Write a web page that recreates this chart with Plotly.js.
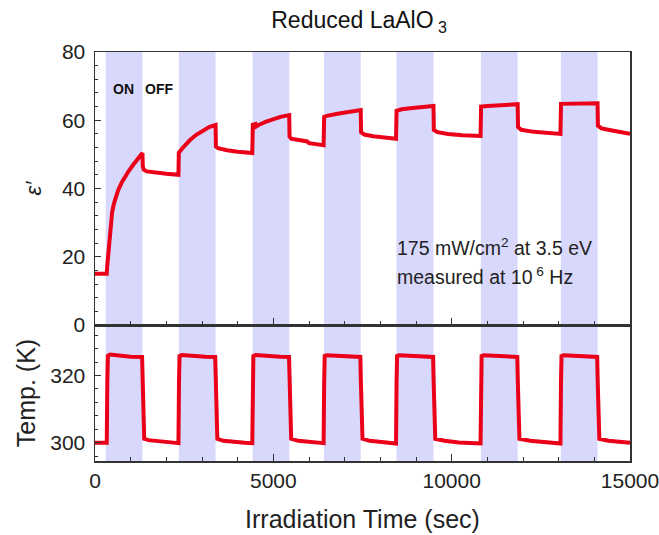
<!DOCTYPE html>
<html>
<head>
<meta charset="utf-8">
<script src="https://cdn.plot.ly/plotly-3.0.1.min.js"></script>
<style>html,body{margin:0;padding:0;background:#fff;}#chart{width:659px;height:535px;}</style>
</head>
<body>
<div id="chart"></div>
<script>
// Light ON periods (shaded bands), seconds
const bandStart = [300, 2350, 4420, 6420, 8450, 10820, 13060];
const bandEnd   = [1330, 3380, 5450, 7450, 9490, 11850, 14090];

// Dielectric constant epsilon' vs time
const tEps = [0, 330, 340, 360, 390, 436, 480, 531, 600, 650, 750, 825, 950, 1061, 1200, 1330,
  1340, 1370, 1450, 1700, 2000, 2340,
  2350, 2450, 2664, 2850, 3028, 3200, 3380,
  3390, 3450, 3700, 4000, 4410,
  4425, 4500, 4520, 4600, 4800, 5000, 5200, 5445,
  5455, 5500, 5700, 5950, 6000, 6200, 6410,
  6425, 6500, 6800, 7100, 7450,
  7460, 7550, 7800, 8100, 8440,
  8455, 8600, 8900, 9200, 9490,
  9500, 9600, 9900, 10300, 10810,
  10825, 11000, 11400, 11850,
  11860, 11950, 12300, 12700, 13050,
  13065, 13300, 13700, 14090,
  14100, 14200, 14500, 14800, 15000];
const eps = [15, 15, 17, 19.5, 22, 29.5, 33, 35.6, 38, 39.5, 41.8, 43.2, 45.2, 46.8, 48.7, 50.4,
  46.5, 45.5, 45.0, 44.6, 44.3, 44.0,
  50.5, 51.8, 54.2, 55.8, 57.1, 58.0, 58.6,
  52.3, 51.8, 51.2, 50.8, 50.4,
  58.7, 58.9, 58.2, 58.7, 59.6, 60.4, 61.0, 61.5,
  55.2, 54.6, 54.2, 53.8, 53.3, 53.0, 52.7,
  61.0, 61.3, 61.9, 62.5, 63.0,
  56.5, 55.8, 55.3, 54.9, 54.6,
  62.8, 63.2, 63.6, 63.9, 64.2,
  57.2, 56.5, 56.0, 55.6, 55.4,
  64.0, 64.2, 64.5, 64.7,
  58.0, 57.2, 56.6, 56.2, 56.0,
  64.8, 64.8, 64.9, 65.0,
  58.4, 57.6, 57.0, 56.5, 56.0];

// Sample temperature vs time
const tTemp = [0, 330, 345, 360, 420, 700, 1000, 1320, 1335, 1350, 1380, 1500, 1800, 2100, 2340,
  2355, 2370, 2430, 2800, 3100, 3370, 3385, 3400, 3430, 3600, 3900, 4200, 4410,
  4425, 4440, 4500, 4900, 5200, 5440, 5455, 5470, 5500, 5700, 6000, 6410,
  6425, 6440, 6500, 6900, 7200, 7440, 7455, 7470, 7500, 7700, 8000, 8440,
  8455, 8470, 8530, 8900, 9200, 9480, 9495, 9510, 9540, 9800, 10200, 10810,
  10825, 10840, 10900, 11300, 11600, 11840, 11855, 11870, 11900, 12200, 12600, 13050,
  13065, 13080, 13140, 13500, 13800, 14080, 14095, 14110, 14140, 14400, 14700, 15000];
const temp = [300.0, 300.0, 318, 325.8, 326.2, 325.8, 325.6, 325.5, 318, 304, 301.2, 300.8, 300.4, 300.1, 299.9,
  318, 325.8, 326.1, 325.7, 325.6, 325.5, 318, 304, 301.2, 300.6, 300.2, 300.0, 299.9,
  318, 325.8, 326.1, 325.7, 325.6, 325.5, 318, 304, 301.2, 300.6, 300.2, 299.9,
  318, 325.8, 326.0, 325.7, 325.6, 325.5, 318, 304, 301.2, 300.6, 300.2, 299.8,
  318, 325.8, 326.0, 325.7, 325.6, 325.5, 318, 304, 301.2, 300.6, 300.1, 299.8,
  318, 325.8, 326.0, 325.7, 325.6, 325.5, 318, 304, 301.2, 300.6, 300.1, 299.8,
  318, 325.8, 326.0, 325.7, 325.6, 325.5, 318, 304, 301.2, 300.6, 300.2, 300.0];

const epsTicks = [0, 20, 40, 60, 80];
const tempTicks = [300, 320];
const xTicks = [0, 5000, 10000, 15000];
const xTickText = ['0', '5000', '10000', '15000'];

const red = 'rgb(234,0,24)';
const font = 'Arial, "Liberation Sans", sans-serif';

const traces = [
  {x: tEps, y: eps, xaxis: 'x2', yaxis: 'y2', mode: 'lines', line: {color: red, width: 4}, hoverinfo: 'skip'},
  {x: tTemp, y: temp, xaxis: 'x', yaxis: 'y', mode: 'lines', line: {color: red, width: 4}, hoverinfo: 'skip'}
];

const shapes = bandStart.map((s, i) => ({
  type: 'rect', xref: 'x', yref: 'paper', x0: s, x1: bandEnd[i], y0: 0, y1: 1,
  fillcolor: 'rgb(216,216,252)', line: {width: 0}, layer: 'below'
}));

const axisCommon = {
  showline: true, linecolor: '#333', linewidth: 1.5, mirror: true,
  showgrid: false, zeroline: false, ticks: 'inside', tickcolor: '#333',
  tickfont: {family: font, size: 21, color: '#222'}
};

const layout = {
  width: 659, height: 535,
  margin: {l: 95, r: 29, t: 52, b: 74},
  paper_bgcolor: '#fff', plot_bgcolor: 'rgba(0,0,0,0)',
  showlegend: false,
  font: {family: font, color: '#222'},
  title: {text: 'Reduced LaAlO<sub> 3</sub>', font: {family: font, size: 23, color: '#111'}, x: 0.545, xanchor: 'center', y: 0.963, yanchor: 'middle'},
  xaxis: Object.assign({}, axisCommon, {
    domain: [0, 1], anchor: 'y', range: [0, 15000], tickvals: xTicks, ticktext: xTickText,
    ticklen: 7, tickwidth: 1.3, ticklabeloverflow: 'allow',
    minor: {dtick: 1000, tick0: 0, ticks: 'inside', ticklen: 4, tickwidth: 1, tickcolor: '#333'},
    title: {text: 'Irradiation Time (sec)', font: {family: font, size: 25, color: '#222'}, standoff: 20}
  }),
  xaxis2: Object.assign({}, axisCommon, {
    domain: [0, 1], anchor: 'y2', matches: 'x', range: [0, 15000], tickvals: xTicks,
    ticklen: 7, tickwidth: 1.3, showticklabels: false,
    minor: {dtick: 1000, tick0: 0, ticks: 'inside', ticklen: 4, tickwidth: 1, tickcolor: '#333'}
  }),
  yaxis: Object.assign({}, axisCommon, {
    domain: [0, 0.3325], anchor: 'x', range: [294.6, 335], tickvals: tempTicks,
    ticklen: 6, tickwidth: 1.3, ticklabelstandoff: 4,
    minor: {dtick: 4, tick0: 0, ticks: 'inside', ticklen: 3, tickwidth: 1, tickcolor: '#333'},
    title: {text: 'Temp. (K)', font: {family: font, size: 25, color: '#222'}, standoff: 7}
  }),
  yaxis2: Object.assign({}, axisCommon, {
    domain: [0.3325, 1], anchor: 'x2', range: [0, 80], tickvals: epsTicks,
    ticklen: 6, tickwidth: 1.3, ticklabelstandoff: 4,
    minor: {dtick: 4, tick0: 0, ticks: 'inside', ticklen: 3, tickwidth: 1, tickcolor: '#333'},
    title: {text: '<i>ε′</i>', font: {family: font, size: 22, color: '#222'}, standoff: 14}
  }),
  shapes: shapes,
  annotations: [
    {xref: 'x2', yref: 'y2', x: 785, y: 69.1, text: '<b>ON</b>', showarrow: false, font: {family: font, size: 14, color: '#111'}, xanchor: 'center', yanchor: 'middle'},
    {xref: 'x2', yref: 'y2', x: 1794, y: 69.1, text: '<b>OFF</b>', showarrow: false, font: {family: font, size: 14, color: '#111'}, xanchor: 'center', yanchor: 'middle'},
    {xref: 'x2', yref: 'y2', x: 8420, y: 22.8, text: '175 mW/cm<sup>2</sup> at 3.5 eV', showarrow: false, font: {family: font, size: 19.5, color: '#222'}, xanchor: 'left', yanchor: 'middle'},
    {xref: 'x2', yref: 'y2', x: 8420, y: 14.4, text: 'measured at 10<sup> 6</sup> Hz', showarrow: false, font: {family: font, size: 19.5, color: '#222'}, xanchor: 'left', yanchor: 'middle'}
  ]
};

Plotly.newPlot('chart', traces, layout, {staticPlot: true, displayModeBar: false});
</script>
</body>
</html>
